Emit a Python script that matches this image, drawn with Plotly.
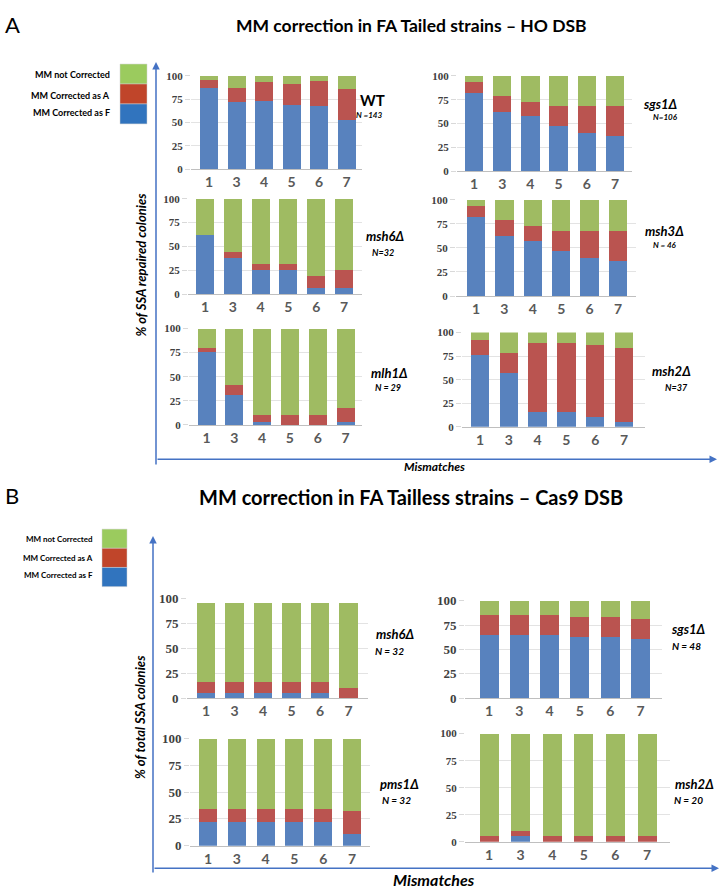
import plotly.graph_objects as go

W, H = 722, 896
mismatches = ['1', '3', '4', '5', '6', '7']

# ---------------- Panel A data (F = corrected as F, A = corrected as A, U = not corrected)
wt_F = [86.5, 72.5, 73.5, 68.5, 67.5, 53]
wt_A = [9, 14, 19.5, 22.5, 26.5, 32.5]
wt_U = [4.5, 13.5, 7, 9, 6, 14.5]

sgs1A_F = [82, 62.5, 57.5, 47, 40.5, 37]
sgs1A_A = [12, 16.5, 15, 21, 27.5, 31]
sgs1A_U = [6, 21, 27.5, 32, 32, 32]

msh6A_F = [62.5, 37.5, 25, 25, 6.25, 6.25]
msh6A_A = [0, 6.25, 6.25, 6.25, 12.5, 18.75]
msh6A_U = [37.5, 56.25, 68.75, 68.75, 81.25, 75]

msh3A_F = [82.5, 62.5, 57, 46.5, 40, 36.5]
msh3A_A = [11, 16.5, 15.5, 21.5, 28, 31.5]
msh3A_U = [6.5, 21, 27.5, 32, 32, 32]

mlh1A_F = [75.9, 31, 3.4, 0, 0, 3.4]
mlh1A_A = [3.4, 10.3, 6.9, 10.3, 10.3, 13.8]
mlh1A_U = [20.7, 58.7, 89.7, 89.7, 89.7, 82.8]

msh2A_F = [75.7, 56.8, 16.2, 16.2, 10.8, 5.4]
msh2A_A = [16.2, 21.6, 73, 73, 75.7, 78.4]
msh2A_U = [8.1, 21.6, 10.8, 10.8, 13.5, 16.2]

# ---------------- Panel B data
msh6B_F = [5.5, 5.5, 5.5, 5.5, 5.5, 0]
msh6B_A = [11, 11, 11, 11, 11, 10.6]
msh6B_U = [79, 79, 79, 79, 79, 84.9]

sgs1B_F = [64.6, 64.6, 64.6, 62.5, 62.5, 60.4]
sgs1B_A = [20.8, 20.8, 20.8, 20.8, 20.8, 20.8]
sgs1B_U = [14.6, 14.6, 14.6, 16.7, 16.7, 18.8]

pms1B_F = [21.9, 21.9, 21.9, 21.9, 21.9, 10.9]
pms1B_A = [12.5, 12.5, 12.5, 12.5, 12.5, 21.9]
pms1B_U = [65.6, 65.6, 65.6, 65.6, 65.6, 67.2]

msh2B_F = [0, 5, 0, 0, 0, 0]
msh2B_A = [5, 5, 5, 5, 5, 5]
msh2B_U = [95, 90, 95, 95, 95, 95]

y_ticks = [0, 25, 50, 75, 100]
legend_labels = ['MM not Corrected', 'MM Corrected as A', 'MM Corrected as F']

C_F, C_A, C_U = '#5882BE', '#BA5450', '#9FBB62'
L_U, L_A, L_F = '#9BCB5E', '#C0452A', '#3174BE'
AX = '#4472C4'

# panel geometry: (L, R, first bar centre, last bar centre, y of 100, y of 0, bar width px)
panels = [
    dict(F=wt_F, A=wt_A, U=wt_U, g=(191, 362, 209, 346.5, 70, 165, 18), yfs=11,
         name='WT', italic=False, nfs=15, npos=(373, 95), n='N =143', nlpos=(369, 110), nsz=8),
    dict(F=sgs1A_F, A=sgs1A_A, U=sgs1A_U, g=(457, 632, 474, 615, 70, 167, 18.5), yfs=11,
         name='sgs1Δ', italic=True, nfs=13, npos=(660, 99), n='N=106', nlpos=(665, 112), nsz=8),
    dict(F=msh6A_F, A=msh6A_A, U=msh6A_U, g=(188, 362, 205, 344, 195, 292, 18), yfs=11,
         name='msh6Δ', italic=True, nfs=13, npos=(385, 233), n='N=32', nlpos=(383, 250), nsz=9),
    dict(F=msh3A_F, A=msh3A_A, U=msh3A_U, g=(456, 636, 476, 618, 196, 294, 18.5), yfs=11,
         name='msh3Δ', italic=True, nfs=13, npos=(664, 228), n='N = 46', nlpos=(665, 242), nsz=8),
    dict(F=mlh1A_F, A=mlh1A_A, U=mlh1A_U, g=(189, 362, 206.5, 345.5, 327, 425, 18), yfs=11,
         name='mlh1Δ', italic=True, nfs=13, npos=(389, 372), n='N = 29', nlpos=(388, 387), nsz=9),
    dict(F=msh2A_F, A=msh2A_A, U=msh2A_U, g=(462, 645, 480, 624, 331, 427, 18.5), yfs=11,
         name='msh2Δ', italic=True, nfs=13, npos=(671, 370), n='N=37', nlpos=(676, 387), nsz=9),
    dict(F=msh6B_F, A=msh6B_A, U=msh6B_U, g=(187, 368, 206, 348.5, 602, 703, 18.5), yfs=13,
         name='msh6Δ', italic=True, nfs=13, npos=(395, 638), n='N = 32', nlpos=(389, 655), nsz=10),
    dict(F=sgs1B_F, A=sgs1B_A, U=sgs1B_U, g=(465, 662, 489, 640.5, 604, 703, 19), yfs=13,
         name='sgs1Δ', italic=True, nfs=13, npos=(688, 633), n='N = 48', nlpos=(686, 650), nsz=10),
    dict(F=pms1B_F, A=pms1B_A, U=pms1B_U, g=(190, 370, 208, 352, 744, 853, 18), yfs=13,
         name='pms1Δ', italic=True, nfs=13, npos=(399, 790), n='N = 32', nlpos=(396, 807), nsz=10),
    dict(F=msh2B_F, A=msh2B_A, U=msh2B_U, g=(465, 670, 489, 647, 739, 849, 19), yfs=11,
         name='msh2Δ', italic=True, nfs=13, npos=(694, 790), n='N = 20', nlpos=(688, 807), nsz=10),
]


def px(x):
    return x / W


def py(y):
    return 1 - y / H


fig = go.Figure()
layout = {}
annotations = []
shapes = []

for i, p in enumerate(panels, start=1):
    L, R, c0, c5, y100, y0, bw = p['g']
    upp = 5.0 / (c5 - c0)
    xr = [(L - c0) * upp, (R - c0) * upp]
    xk = 'x' if i == 1 else f'x{i}'
    yk = 'y' if i == 1 else f'y{i}'
    for vals, col in ((p['F'], C_F), (p['A'], C_A), (p['U'], C_U)):
        fig.add_trace(go.Bar(x=mismatches, y=vals, marker=dict(color=col, line=dict(width=0)),
                             width=bw * upp, xaxis=xk, yaxis=yk, showlegend=False))
    layout['xaxis' if i == 1 else f'xaxis{i}'] = dict(
        domain=[px(L), px(R)], range=xr, type='category', anchor=yk,
        showgrid=False, showline=True, linecolor='#BFBFBF', linewidth=1, ticks='',
        tickfont=dict(family='Lato', size=14, color='#595959', weight='bold'),
        fixedrange=True)
    layout['yaxis' if i == 1 else f'yaxis{i}'] = dict(
        domain=[py(y0), py(y100)], range=[0, 100], anchor=xk, tickvals=y_ticks,
        showgrid=True, gridcolor='#E3E3E3', gridwidth=1, zeroline=False, showline=False,
        ticks='outside', ticklen=5, tickcolor='#D9D9D9',
        tickfont=dict(family='Liberation Serif', size=p['yfs'], color='#404040', weight='bold'),
        fixedrange=True)
    annotations.append(dict(x=px(p['npos'][0]), y=py(p['npos'][1]), xref='paper', yref='paper',
                            text=p['name'], showarrow=False, xanchor='center', yanchor='middle',
                            font=dict(family='Lato', size=p['nfs'], color='#000000', weight='bold',
                                      style='italic' if p['italic'] else 'normal')))
    annotations.append(dict(x=px(p['nlpos'][0]), y=py(p['nlpos'][1]), xref='paper', yref='paper',
                            text=p['n'], showarrow=False, xanchor='center', yanchor='middle',
                            font=dict(family='Lato', size=p['nsz'], color='#000000', weight='bold',
                                      style='italic')))

# Titles and panel letters
annotations += [
    dict(x=px(12), y=py(18), xref='paper', yref='paper', text='A', showarrow=False,
         font=dict(family='Lato', size=22, color='#000'), xanchor='center', yanchor='middle'),
    dict(x=px(411), y=py(19), xref='paper', yref='paper', text='MM correction in FA Tailed strains – HO DSB',
         showarrow=False, font=dict(family='Lato', size=17.5, color='#000', weight='bold'),
         xanchor='center', yanchor='middle'),
    dict(x=px(12), y=py(497), xref='paper', yref='paper', text='B', showarrow=False,
         font=dict(family='Lato', size=22, color='#000'), xanchor='center', yanchor='middle'),
    dict(x=px(411), y=py(498), xref='paper', yref='paper', text='MM correction in FA Tailless strains – Cas9 DSB',
         showarrow=False, font=dict(family='Lato', size=20, color='#000', weight='bold'),
         xanchor='center', yanchor='middle'),
    # axis titles
    dict(x=px(141), y=py(262), xref='paper', yref='paper', text='% of SSA repaired colonies',
         showarrow=False, textangle=-90, font=dict(family='Lato', size=13, color='#000', weight='bold', style='italic'),
         xanchor='center', yanchor='middle'),
    dict(x=px(434), y=py(467), xref='paper', yref='paper', text='Mismatches',
         showarrow=False, font=dict(family='Lato', size=12, color='#000', weight='bold', style='italic'),
         xanchor='center', yanchor='middle'),
    dict(x=px(140), y=py(722), xref='paper', yref='paper', text='% of total SSA colonies',
         showarrow=False, textangle=-90, font=dict(family='Lato', size=13, color='#000', weight='bold', style='italic'),
         xanchor='center', yanchor='middle'),
    dict(x=px(434), y=py(887), xref='paper', yref='paper', text='Mismatches',
         showarrow=False, font=dict(family='Lato', size=16, color='#000', weight='bold', style='italic'),
         xanchor='center', yanchor='middle'),
]

# big arrows (tail x0,y0 -> head x1,y1), offsets in pixels
for (x0, y0, x1, y1) in [(156, 460, 156, 56), (156, 460, 717, 460),
                         (153, 876, 153, 538), (153, 876, 719, 876)]:
    annotations.append(dict(x=px(x1), y=py(y1), ax=x0 - x1, ay=y0 - y1, xref='paper', yref='paper',
                            axref='pixel', ayref='pixel', text='', showarrow=True,
                            arrowhead=2, arrowsize=1, arrowwidth=1.5, arrowcolor=AX))


def legend(lx, ty, sw, sh, labels_y, right, fs):
    cols = [L_U, L_A, L_F]
    for k in range(3):
        shapes.append(dict(type='rect', xref='paper', yref='paper',
                           x0=px(lx), x1=px(lx + sw), y0=py(ty + sh * (k + 1)), y1=py(ty + sh * k),
                           fillcolor=cols[k], line=dict(color='#D0D0D0', width=0.5)))
        annotations.append(dict(x=px(right), y=py(labels_y[k]), xref='paper', yref='paper',
                                text=legend_labels[k], showarrow=False, xanchor='right', yanchor='middle',
                                font=dict(family='Lato', size=fs, color='#000', weight='bold')))


legend(120, 58, 27, 20.3, [69, 90, 107], 112, 9)
legend(102, 531, 25, 19.5, [541, 560, 578], 95, 8)

fig.update_layout(
    width=W, height=H, margin=dict(l=0, r=0, t=0, b=0),
    paper_bgcolor='white', plot_bgcolor='white',
    barmode='stack', showlegend=False,
    annotations=annotations, shapes=shapes,
    **layout,
)

fig.write_html('out.html', config={'displayModeBar': False},
               post_script="document.body.style.margin='0px';document.body.style.padding='0px';")
